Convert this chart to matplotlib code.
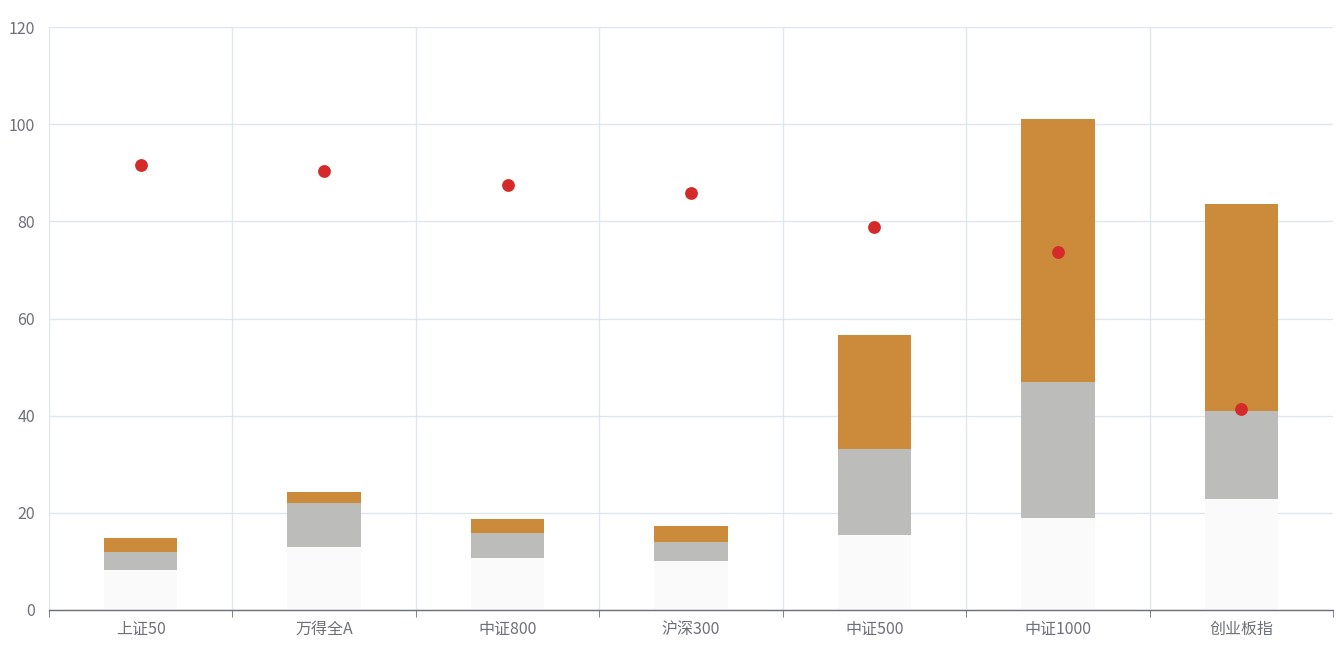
import matplotlib
matplotlib.use('Agg')
import matplotlib.pyplot as plt
import numpy as np

plt.rcParams['font.family'] = ['Noto Sans CJK SC', 'DejaVu Sans']

# --- 데이터 ---
categories = ['上证50', '万得全A', '中证800', '沪深300', '中证500', '中证1000', '创业板指']
base_vals = [8.2, 13.0, 10.7, 10.1, 15.4, 18.9, 22.8]      # 아래 (연한색)
mid_vals = [11.9, 22.0, 15.9, 14.0, 33.1, 46.9, 41.0]      # 회색 상단
top_vals = [14.8, 24.3, 18.7, 17.3, 56.6, 101.1, 83.6]     # 주황 상단
dot_vals = [91.6, 90.4, 87.5, 85.8, 78.8, 73.7, 41.4]

grid_c = '#e0e6f1'
text_c = '#6e7079'

fig = plt.figure(figsize=(13.41, 6.48), dpi=100)
ax = fig.add_axes([49 / 1341, 38 / 648, (1333 - 49) / 1341, (610 - 27) / 648])

x = np.arange(len(categories))
base = np.array(base_vals)
mid = np.array(mid_vals)
top = np.array(top_vals)
w = 0.40

ax.bar(x, base, width=w, color='#fafafa', zorder=2)
ax.bar(x, mid - base, bottom=base, width=w, color='#bcbcba', zorder=2)
ax.bar(x, top - mid, bottom=mid, width=w, color='#cc8b3a', zorder=2)
ax.scatter(x, dot_vals, s=85, color='#d42a2a', zorder=3, linewidths=0)

ax.set_xlim(-0.5, len(categories) - 0.5)
ax.set_ylim(0, 120)
ax.set_yticks(np.arange(0, 121, 20))

# 카테고리 경계에 세로 격자
bounds = np.arange(-0.5, len(categories) + 0.5, 1)
for b in bounds[:-1]:
    ax.axvline(b, color=grid_c, lw=1, zorder=0)
ax.yaxis.grid(True, color=grid_c, lw=1, zorder=0)
ax.set_axisbelow(True)

ax.set_xticks(x)
ax.set_xticklabels(categories, fontsize=11.5, color=text_c)
ax.tick_params(axis='x', length=0, pad=8)
ax.set_xticks(bounds, minor=True)
ax.tick_params(axis='x', which='minor', length=5, color=text_c)
ax.tick_params(axis='y', length=0, labelsize=11.5, labelcolor=text_c, pad=10)

for s in ['top', 'right', 'left']:
    ax.spines[s].set_visible(False)
ax.spines['bottom'].set_color(text_c)
ax.spines['bottom'].set_linewidth(1)

fig.savefig('out.png', dpi=100)
